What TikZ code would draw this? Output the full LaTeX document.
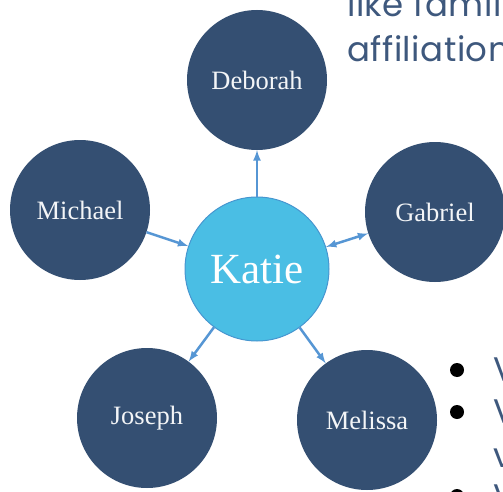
\documentclass[tikz,border=0pt]{standalone}
\usepackage{fontspec}
\setmainfont{Liberation Serif}
\newfontfamily\slidefont[LetterSpace=1.5]{Poppins}
\usetikzlibrary{arrows}
\definecolor{navy}{RGB}{52,79,114}
\definecolor{katieblue}{RGB}{74,190,228}
\definecolor{katieedge}{RGB}{70,150,208}
\definecolor{linkblue}{RGB}{86,150,212}
\definecolor{slidetext}{RGB}{62,88,125}

\begin{document}
\begin{tikzpicture}[x = 1pt, y = 1pt,
  person/.style = {circle, fill = navy, minimum size = 140pt, inner sep = 0pt, text = white!94!navy, font = \fontsize{26.5}{30}\selectfont},
  center/.style = {circle, fill = katieblue, draw = katieedge, line width = 1pt, minimum size = 144pt, inner sep = 0pt, text = white, font = \fontsize{43}{48}\selectfont},
  link/.style = {-latex, line width = 2.5pt, draw = linkblue},
  slide/.style = {anchor = base west, inner sep = 0pt, text = slidetext, font = \slidefont\fontsize{34}{40}\selectfont}]
\clip (0,0) rectangle (503,491);
\node[person] (deborah) at (257,411) {Deborah};
\node[person] (michael) at (80,281) {Michael};
\node[person] (gabriel) at (435,279) {Gabriel};
\node[person] (joseph) at (147,73) {Joseph};
\node[person] (melissa) at (367,71) {Melissa};
\node[center] (katie) at (257,222) {Katie};
\draw[link] (katie) -- (deborah);
\draw[link] (michael) -- (katie);
\draw[link, latex-latex] (katie) -- (gabriel);
\draw[link] (katie) -- (joseph);
\draw[link] (katie) -- (melissa);
% text of the slide, cut by the border
\node[slide] (top1) at (347,474) {like family};
\node[slide] (top2) at (347,429) {affiliation};
\node[slide] (item1) at (493,110) {V};
\node[slide] (item2) at (493,68) {V};
\node[slide] (item2b) at (493,24) {v};
\node[slide] (item3) at (493,-17) {V};
\fill (457,121) circle (7);
\fill (457,79) circle (7);
\fill (457,-5) circle (7);
\end{tikzpicture}
\end{document}
